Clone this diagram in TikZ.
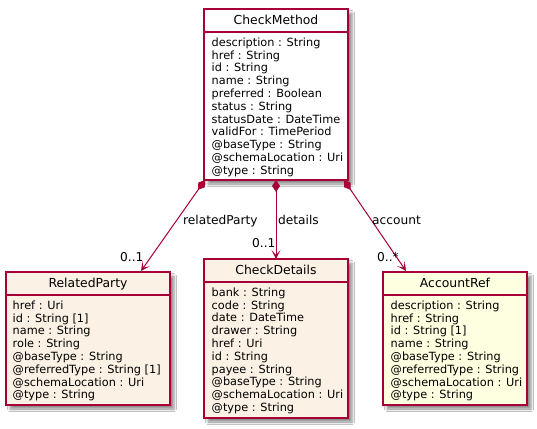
\documentclass[tikz,border=0pt]{standalone}
\usepackage{fontspec}
\setmainfont{DejaVu Sans}
\usetikzlibrary{arrows.meta,shadows.blur}
\definecolor{umlred}{HTML}{A80036}
\definecolor{linen}{HTML}{FBF1E4}
\definecolor{lightyel}{HTML}{FEFEE0}
\begin{document}
\begin{tikzpicture}[x=1pt,y=-1pt,
  clsbox/.style={draw=umlred, line width=1.5pt, anchor=north west, inner sep=0, outer sep=0,
    blur shadow={shadow xshift=4pt, shadow yshift=-4pt, shadow blur radius=2.5pt, shadow opacity=45}},
  clstitle/.style={anchor=base, inner sep=0, font=\fontsize{12.4}{14}\selectfont},
  attrs/.style={anchor=north west, inner sep=0, align=left, font=\fontsize{11.3}{12.8}\selectfont},
  sepline/.style={draw=umlred, line width=1.2pt},
  assoc/.style={draw=umlred, line width=1pt,
    {Diamond[length=12pt,width=8pt,fill=umlred]}-{Stealth[length=9pt,width=9pt,inset=5pt]}},
  elabel/.style={anchor=base west, inner sep=0, font=\fontsize{12.2}{14}\selectfont}]
\useasboundingbox (0,0) rectangle (537,428);
\fill[white] (0,0) rectangle (537,428);

% CheckMethod
\node[clsbox, fill=white, minimum width=144pt, minimum height=171pt] (CheckMethod) at (204,9) {};
\draw[sepline] (CheckMethod.west |- 0,32) -- (CheckMethod.east |- 0,32);
\node[clstitle] (CheckMethodT) at (276,24.5) {CheckMethod};
\node[attrs] (CheckMethodA) at (211.5,37.6) {description : String\\href : String\\id : String\\name : String\\preferred : Boolean\\status : String\\statusDate : DateTime\\validFor : TimePeriod\\@baseType : String\\@schemaLocation : Uri\\@type : String};

% RelatedParty
\node[clsbox, fill=linen, minimum width=164pt, minimum height=133pt] (RelatedParty) at (6,272) {};
\draw[sepline] (RelatedParty.west |- 0,295) -- (RelatedParty.east |- 0,295);
\node[clstitle] (RelatedPartyT) at (88,287.6) {RelatedParty};
\node[attrs] (RelatedPartyA) at (12.5,300.6) {href : Uri\\id : String [1]\\name : String\\role : String\\@baseType : String\\@referredType : String [1]\\@schemaLocation : Uri\\@type : String};

% CheckDetails
\node[clsbox, fill=linen, minimum width=144pt, minimum height=159pt] (CheckDetails) at (204,259) {};
\draw[sepline] (CheckDetails.west |- 0,282) -- (CheckDetails.east |- 0,282);
\node[clstitle] (CheckDetailsT) at (276,274.6) {CheckDetails};
\node[attrs] (CheckDetailsA) at (211.5,287.6) {bank : String\\code : String\\date : DateTime\\drawer : String\\href : Uri\\id : String\\payee : String\\@baseType : String\\@schemaLocation : Uri\\@type : String};

% AccountRef
\node[clsbox, fill=lightyel, minimum width=144pt, minimum height=133pt] (AccountRef) at (383,272) {};
\draw[sepline] (AccountRef.west |- 0,295) -- (AccountRef.east |- 0,295);
\node[clstitle] (AccountRefT) at (455,287.6) {AccountRef};
\node[attrs] (AccountRefA) at (390.5,300.6) {description : String\\href : String\\id : String [1]\\name : String\\@baseType : String\\@referredType : String\\@schemaLocation : Uri\\@type : String};

% associations
\draw[assoc] ([xshift=1pt]CheckMethod.south west) -- ([xshift=-29pt,yshift=1pt]RelatedParty.north east);
\draw[assoc] (CheckMethod.south) -- ([yshift=0pt]CheckDetails.north);
\draw[assoc] ([xshift=-4pt]CheckMethod.south east) -- ([xshift=23pt,yshift=1pt]AccountRef.north west);

% labels
\node[elabel] (lblRP) at (183,224.5) {relatedParty};
\node[elabel] (lblCD) at (278,224.5) {details};
\node[elabel] (lblAR) at (372,224.5) {account};
\node[elabel] (mRP) at (120,261.5) {0..1};
\node[elabel] (mCD) at (252,247.5) {0..1};
\node[elabel] (mAR) at (377,261.5) {0..*};
\end{tikzpicture}
\end{document}
